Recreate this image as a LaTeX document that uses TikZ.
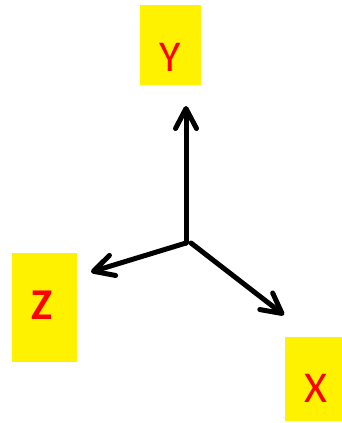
\documentclass[tikz,border=0pt]{standalone}
\usepackage{fontspec}
\setmainfont{Carlito}
\usetikzlibrary{arrows.meta}
\begin{document}
\begin{tikzpicture}[
		x=1pt, y=-1pt,
		axisbox/.style={rectangle, fill=yellow, draw=none, inner sep=0pt},
		axislabel/.style={red, inner sep=0pt, font=\fontsize{44}{48}\selectfont},
		axis/.style={line width=5pt, line cap=round, line join=round,
			-{Straight Barb[length=20pt, width=21pt, round]}}
	]
		\useasboundingbox (0,0) rectangle (342,423);
		
		% Boxes
		\node[axisbox, minimum width=61pt, minimum height=80pt] (ybox) at (170.5,45) {};
		\node[axisbox, minimum width=65pt, minimum height=109pt] (zbox) at (44.5,307.5) {};
		\node[axisbox, minimum width=57pt, minimum height=84pt] (xbox) at (313.5,379) {};
		
		% Labels
		\node[axislabel] (ylab) at ([yshift=-12pt]ybox.center) {Y};
		\node[axislabel, font=\fontsize{44}{48}\selectfont\bfseries] (zlab) at ([xshift=-2pt,yshift=2pt]zbox.center) {Z};
		\node[axislabel] (xlab) at ([xshift=2pt,yshift=-9pt]xbox.center) {X};
		
		% Axes
		\coordinate (o) at (186,243);
		\coordinate (ytip) at (186,106);
		\coordinate (ztip) at (91,272);
		\coordinate (xtip) at (284,315);
		\draw[axis] (o) -- (ytip);
		\draw[axis] (o) -- (ztip);
		\draw[axis] ([xshift=5pt]o) -- (xtip);
	\end{tikzpicture}
\end{document}
